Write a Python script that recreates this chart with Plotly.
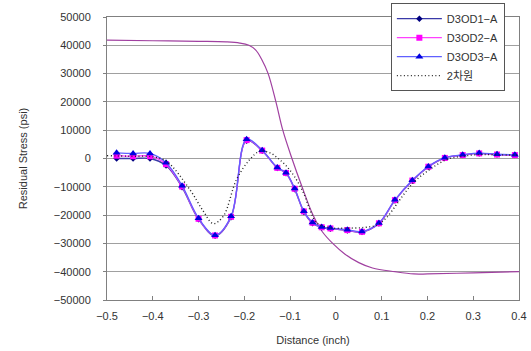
import plotly.graph_objects as go

# measured series (inch, psi)
x_pts = [-0.479, -0.443, -0.406, -0.371, -0.336, -0.300, -0.264, -0.229, -0.195, -0.161,
         -0.128, -0.109, -0.090, -0.070, -0.051, -0.031, -0.012, 0.025, 0.057, 0.094,
         0.129, 0.167, 0.202, 0.238, 0.277, 0.313, 0.352, 0.391]
d1 = [0, 0, 0, -2500, -10200, -21500, -27300, -20800, 6300, 2700,
      -3400, -5200, -10900, -18900, -22900, -24400, -24800, -25400, -26000, -23000,
      -14800, -7900, -3000, 200, 1200, 1800, 1400, 1200]
d2 = [1000, 800, 800, -2000, -9900, -21300, -27200, -20600, 6500, 2800,
      -3300, -5100, -10700, -18700, -22700, -24300, -24700, -25300, -25900, -22900,
      -14700, -7800, -2900, 200, 1200, 1800, 1400, 1200]
d3 = [2000, 1800, 1800, -1500, -9600, -21100, -27100, -20400, 6800, 2900,
      -3200, -5000, -10600, -18600, -22600, -24200, -24600, -25200, -25800, -22800,
      -14600, -7700, -2800, 300, 1300, 1900, 1500, 1300]

x_2d = [-0.5, -0.45, -0.4, -0.37, -0.319, -0.29, -0.268, -0.246, -0.217, -0.188, -0.166,
        -0.144, -0.126, -0.108, -0.09, -0.071, -0.057, -0.042, -0.013, 0.02, 0.06, 0.09,
        0.11, 0.13, 0.14, 0.169, 0.205, 0.242, 0.277, 0.314, 0.35, 0.4]
y_2d = [1000, 800, 600, -950, -11000, -18500, -23000, -20400, -7400, -350, 2600,
        2000, 0, -2700, -6500, -12100, -18000, -22700, -24500, -24600, -24400, -23500,
        -21000, -16800, -14500, -8600, -3900, -350, 800, 1400, 1300, 1200]

x_ref = [-0.5, -0.4, -0.3, -0.24, -0.21, -0.19, -0.175, -0.162, -0.148, -0.131, -0.116,
         -0.096, -0.074, -0.05, -0.03, -0.007, 0.02, 0.05, 0.08, 0.129, 0.17, 0.2, 0.3, 0.4]
y_ref = [41800, 41600, 41400, 41200, 40800, 40000, 38300, 35000, 30000, 20000, 10000,
         0, -10000, -20000, -25800, -30000, -33800, -36800, -38700, -40000, -40800, -40800,
         -40400, -40000]

y_ticks = [50000, 40000, 30000, 20000, 10000, 0, -10000, -20000, -30000, -40000, -50000]
y_tick_text = ["50000", "40000", "30000", "20000", "10000", "0", "\u221210000", "\u221220000",
               "\u221230000", "\u221240000", "\u221250000"]
x_ticks = [-0.5, -0.4, -0.3, -0.2, -0.1, 0, 0.1, 0.2, 0.3, 0.4]
x_tick_text = ["\u22120.5", "\u22120.4", "\u22120.3", "\u22120.2", "\u22120.1", "0", "0.1", "0.2", "0.3", "0.4"]

fig = go.Figure()
fig.add_trace(go.Scatter(x=x_ref, y=y_ref, mode="lines", line=dict(color="#A040A0", width=1.2, shape="spline"),
                         showlegend=False))
fig.add_trace(go.Scatter(x=x_pts, y=d1, mode="lines+markers", name="D3OD1\u2212A",
                         line=dict(color="#3A3AA8", width=1.3, shape="spline"),
                         marker=dict(symbol="diamond", size=5, color="#000080")))
fig.add_trace(go.Scatter(x=x_pts, y=d2, mode="lines+markers", name="D3OD2\u2212A",
                         line=dict(color="#FF40FF", width=1.3, shape="spline"),
                         marker=dict(symbol="square", size=6, color="#FF00FF")))
fig.add_trace(go.Scatter(x=x_pts, y=d3, mode="lines+markers", name="D3OD3\u2212A",
                         line=dict(color="#6060FF", width=1.3, shape="spline"),
                         marker=dict(symbol="triangle-up", size=7, color="#0000E0")))
fig.add_trace(go.Scatter(x=x_2d, y=y_2d, mode="lines", name="2\ucc28\uc6d0",
                         line=dict(color="#222222", width=1.4, dash="1px,2.5px", shape="spline")))

fig.update_layout(
    width=531, height=351,
    margin=dict(l=107, r=12, t=17, b=51, autoexpand=False),
    paper_bgcolor="white", plot_bgcolor="white",
    font=dict(family="Liberation Sans, Noto Sans CJK KR, sans-serif", size=11, color="#333333"),
    legend=dict(x=0.689, y=1.049, xanchor="left", yanchor="top", bgcolor="white",
                bordercolor="#555555", borderwidth=1, font=dict(size=11),
                tracegroupgap=0, itemwidth=45),
    xaxis=dict(range=[-0.5, 0.4], tickvals=x_ticks, ticktext=x_tick_text,
               showgrid=False, zeroline=False, showline=True, linecolor="#808080", linewidth=1,
               mirror=True, ticks="inside", ticklen=4, tickcolor="#808080", ticklabelstandoff=6,
               automargin=False,
               title=dict(text="Distance (inch)", standoff=15, font=dict(size=11))),
    yaxis=dict(range=[-50000, 50000], tickvals=y_ticks, ticktext=y_tick_text,
               showgrid=True, gridcolor="#A0A0A0", gridwidth=1, zeroline=False,
               showline=True, linecolor="#808080", linewidth=1, mirror=True,
               ticks="outside", ticklen=3, tickcolor="#808080", ticklabelstandoff=10,
               automargin=False,
               title=dict(text="Residual Stress (psi)", standoff=23, font=dict(size=11))),
)

fig.write_html("out.html", config={"displayModeBar": False},
               post_script="document.body.style.margin='0';")
